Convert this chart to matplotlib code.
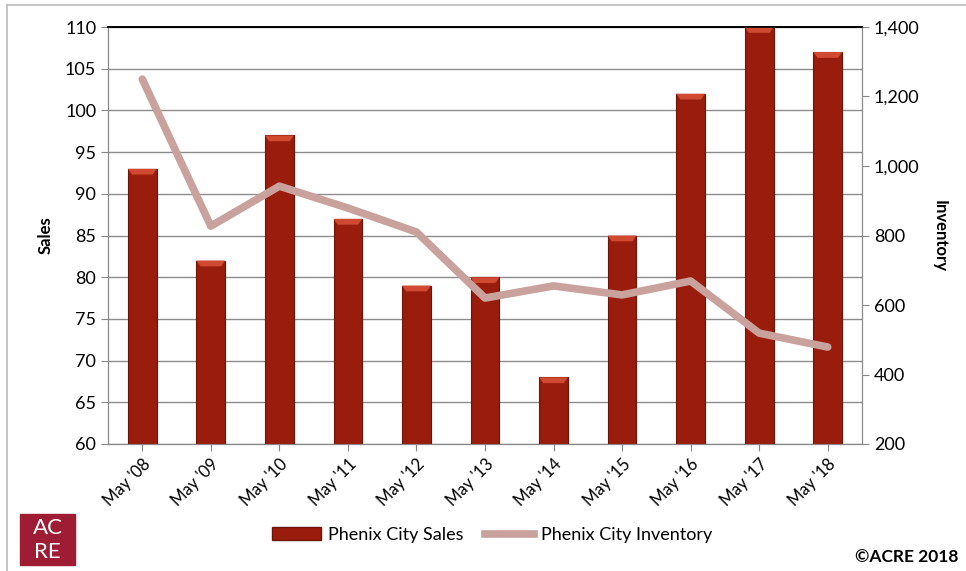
import matplotlib
matplotlib.use("Agg")
import matplotlib.pyplot as plt
from matplotlib.patches import Rectangle, Polygon
from matplotlib.lines import Line2D
import numpy as np

categories = ["May '08", "May '09", "May '10", "May '11", "May '12", "May '13",
              "May '14", "May '15", "May '16", "May '17", "May '18"]
sales = [93, 82, 97, 87, 79, 80, 68, 85, 102, 110, 107]
inventory = [1250, 827, 942, 879, 810, 620, 655, 629, 669, 519, 479]

plt.rcParams['font.family'] = ['Lato', 'DejaVu Sans']

W, H = 966, 571
fig = plt.figure(figsize=(W / 100, H / 100), dpi=100)
ax = fig.add_axes([108 / W, 1 - 444 / H, (862 - 108) / W, (444 - 27) / H])
ax2 = ax.twinx()

x = np.arange(len(categories))
bar_color = "#9a1c0c"
bw = 0.42
ax.bar(x, sales, width=bw, color=bar_color, edgecolor="#6e1408", linewidth=0.8, zorder=3)
# lighter top bevel for 3D look
for xi, v in zip(x, sales):
    ax.add_patch(Polygon([(xi - bw / 2, v), (xi + bw / 2, v), (xi + bw / 2 - 0.06, v - 0.7),
                          (xi - bw / 2 + 0.06, v - 0.7)], closed=True,
                         facecolor="#cf4a30", lw=0, zorder=4))

ax.set_ylim(60, 110)
ax.set_yticks(range(60, 111, 5))
ax.set_xlim(-0.5, len(categories) - 0.5)
ax.set_xticks(x)
ax.set_xticklabels(categories, rotation=45, ha="right", rotation_mode="anchor", fontsize=12)
ax.tick_params(axis="y", labelsize=13, length=5, color="#888888")
ax.tick_params(axis="x", length=5, color="#888888")
ax.yaxis.grid(True, color="#8c8c8c", linewidth=1.0, zorder=0)
ax.set_axisbelow(True)
ax.set_ylabel("Sales", fontsize=12, fontweight="bold", labelpad=8)

ax2.set_ylim(200, 1400)
ax2.set_yticks(range(200, 1401, 200))
ax2.set_yticklabels([f"{v:,}" for v in range(200, 1401, 200)])
ax2.tick_params(axis="y", labelsize=13, length=5, color="#888888")
ax2.set_ylabel("Inventory", fontsize=12, fontweight="bold", rotation=-90, labelpad=20)

for a in (ax, ax2):
    a.spines["top"].set_color("black")
    a.spines["top"].set_linewidth(1.2)
    a.spines["left"].set_color("#888888")
    a.spines["right"].set_color("#888888")
    a.spines["bottom"].set_color("#888888")

ax2.set_zorder(ax.get_zorder() + 1)
ax2.patch.set_visible(False)
line_color = "#c9a19d"
ax2.plot(x, inventory, color=line_color, linewidth=5.5, solid_capstyle="round", zorder=5)

# legend
handles = [Rectangle((0, 0), 1, 1, facecolor=bar_color, edgecolor="#6e1408"),
           Line2D([0], [0], color=line_color, linewidth=5.5)]
fig.legend(handles, ["Phenix City Sales", "Phenix City Inventory"], loc="center",
           bbox_to_anchor=(492 / W, 1 - 535 / H), ncol=2, frameon=False, fontsize=13,
           handlelength=2.7, handletextpad=0.4, columnspacing=1.2)

# border
fig.add_artist(Line2D([7 / W, 7 / W], [0, 1 - 5 / H], color="#bbbbbb", lw=1.2))
fig.add_artist(Line2D([7 / W, 1], [1 - 5 / H, 1 - 5 / H], color="#bbbbbb", lw=1.2))

# ACRE logo
fig.add_artist(Rectangle((20 / W, 1 - 565 / H), 55 / W, 51 / H, color="#9e1d34",
                         transform=fig.transFigure))
fig.text(47.5 / W, 1 - 528 / H, "AC", color="white", fontsize=16, ha="center", va="center")
fig.text(47.5 / W, 1 - 552 / H, "RE", color="white", fontsize=16, ha="center", va="center")

fig.text(958 / W, 1 - 557 / H, "©ACRE 2018", fontsize=12.5, fontweight="bold",
         ha="right", va="center")

fig.savefig("out.png", dpi=100)
